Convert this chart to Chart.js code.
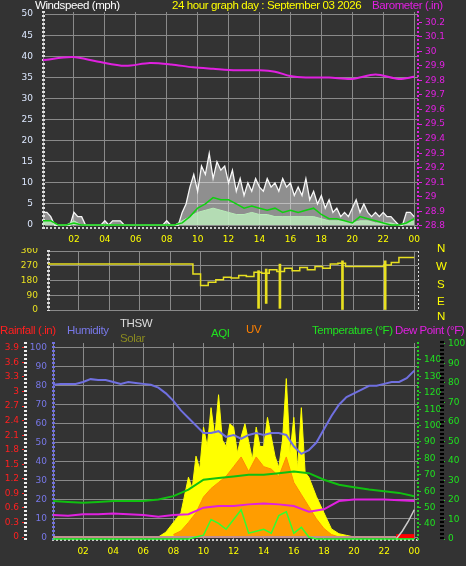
<!DOCTYPE html>
<html>
<head>
<meta charset="utf-8">
<script src="https://cdn.jsdelivr.net/npm/chart.js@4.4.1/dist/chart.umd.min.js"></script>
<style>
  body { margin: 0; background: #333; width: 466px; height: 566px; overflow: hidden; position: relative; font-family: 'Liberation Sans', 'DejaVu Sans', sans-serif; }
  .box { position: absolute; left: 0; width: 466px; }
  .lbl { position: absolute; font-size: 11.5px; letter-spacing: -0.4px; white-space: nowrap; line-height: 13px; }
</style>
</head>
<body>
<div class="box" style="top:0;height:248px"><canvas id="windChart"></canvas></div>
<div class="box" style="top:248px;height:64px"><canvas id="dirChart"></canvas></div>
<div class="box" style="top:318px;height:248px"><canvas id="weatherChart"></canvas></div>

<div class="lbl" style="left:35px;top:-1px;color:#fff">Windspeed (mph)</div>
<div class="lbl" style="left:172px;top:-1px;color:#ff0">24 hour graph day : September 03 2026</div>
<div class="lbl" style="left:372px;top:-1px;color:#e020e0">Barometer (.in)</div>

<div class="lbl" style="left:437px;top:242px;color:#ff0">N</div>
<div class="lbl" style="left:436px;top:260px;color:#ff0">W</div>
<div class="lbl" style="left:437px;top:278px;color:#ff0">S</div>
<div class="lbl" style="left:437px;top:295px;color:#ff0">E</div>
<div class="lbl" style="left:437px;top:310px;color:#ff0">N</div>

<div class="lbl" style="left:0;top:324px;color:#ff2020">Rainfall (.in)</div>
<div class="lbl" style="left:67px;top:324px;color:#7878e8">Humidity</div>
<div class="lbl" style="left:120px;top:317px;color:#ddd">THSW</div>
<div class="lbl" style="left:120px;top:332px;color:#8a8a20">Solar</div>
<div class="lbl" style="left:211px;top:327px;color:#20e020">AQI</div>
<div class="lbl" style="left:246px;top:323px;color:#ff8000">UV</div>
<div class="lbl" style="left:312px;top:324px;color:#20e020">Temperature (°F)</div>
<div class="lbl" style="left:395px;top:324px;color:#e020e0">Dew Point (°F)</div>

<script>
// ---- data ----
const halfHours = [];
for (let i = 0; i <= 48; i++) halfHours.push(i / 2);
const quarterHours = [];
for (let i = 0; i <= 96; i++) quarterHours.push(i / 4);
const hours = [];
for (let i = 0; i <= 24; i++) hours.push(i);

const baroHours = [0, 1.9, 3.5, 5.3, 6.9, 8.3, 9.7, 11, 12.5, 14, 15, 16, 17, 18.5, 20, 21.5, 23, 24];
const barometer = [29.94, 29.96, 29.93, 29.90, 29.92, 29.91, 29.89, 29.88, 29.87, 29.87, 29.86, 29.83, 29.82, 29.82, 29.81, 29.84, 29.81, 29.825];

const windGust = [3, 3, 2, 0, 0, 0, 0, 0, 3, 2, 2, 0, 0, 0, 0, 0, 1, 0, 1, 1, 1, 0, 0, 0,
  0, 0, 0, 0, 0, 0, 0, 0, 1, 0, 0, 0, 3, 5, 9, 12, 8, 14, 12, 17, 11, 15, 13, 14,
  10, 13, 8, 11, 7, 10, 8, 11, 9, 8, 11, 9, 10, 8, 11, 9, 10, 7, 9, 7, 11, 6, 8, 5,
  7, 4, 6, 3, 4, 2, 3, 2, 4, 6, 3, 5, 3, 2, 3, 2, 3, 2, 2, 1, 0, 0, 3, 3, 2];
const windAvg = [1, 1, 0, 0, 0.5, 0, 0, 0, 0, 0, 0, 0, 0, 0, 0, 0, 0, 0,
  0.5, 2, 4, 5, 6.5, 6, 6, 5, 4, 4.5, 4, 3.5, 4, 3, 3.5, 3, 3.5, 4, 2.5, 1.5, 1.5, 1, 0.5, 2, 1.5, 1, 0.5, 0, 0, 0.5, 1.5];
const windSpeed = [1, 1, 0, 0, 1, 0, 0, 0, 0, 0, 0, 0, 0, 0, 0, 0, 0, 0,
  1, 2, 3, 3.5, 4, 3.5, 3, 2.5, 2.5, 3, 2.5, 2.5, 2, 2, 2, 2, 2, 2, 1.5, 1, 1, 1, 0.5, 1, 1, 0.5, 0.5, 0.5, 0, 0.5, 1];

const windDir = [280, 280, 280, 280, 280, 280, 280, 280, 280, 280, 280, 280, 280, 280, 280, 280, 280, 280, 280,
  220, 150, 170, 185, 200, 195, 210, 205, 230, 225, 245, 235, 255, 240, 260, 245, 265, 255, 280, 285,
  265, 265, 265, 265, 265, 275, 290, 320, 320, 320, 360];
const dirSpikeHours = [13.8, 14.3, 15.2, 19.3, 22.1];
const dirSpikeLow = [10, 40, 10, 0, 0];
const dirSpikeHigh = [240, 250, 280, 300, 300];

const humidity = [80.5, 81, 81, 81, 82, 83.5, 83, 83, 82, 81, 82, 81.5, 81, 80.5, 79, 76, 72, 67, 63, 59, 55, 55, 56, 53, 54,
  52, 54, 55, 54, 55, 55, 54, 48, 44, 46, 50, 57, 64, 70, 74, 76, 78, 80, 80, 81, 82, 82, 84, 88];
const temperature = [54, 53.5, 53, 53.5, 54, 54, 54, 55, 57, 61, 67, 68, 69, 70, 70, 71, 72, 71, 67, 64, 62.5, 61, 60, 59, 57];
const dewPoint = [45.5, 45, 46, 46, 46.5, 46, 45.5, 44.5, 45.5, 46, 50, 51, 51, 52, 52.5, 52, 51, 47.5, 49, 54, 55, 55, 55, 54.5, 54];

const solarHours = [7, 7.5, 8, 8.5, 9, 9.25, 9.5, 9.75, 10, 10.25, 10.5, 10.75, 11, 11.25, 11.5, 11.75, 12, 12.25, 12.5, 12.75,
  13, 13.25, 13.5, 13.75, 14, 14.25, 14.5, 14.75, 15, 15.25, 15.5, 15.75, 16, 16.25, 16.5, 16.75, 17, 17.5, 18, 18.5, 19, 19.5, 20];
const solar = [0, 30, 90, 150, 370, 300, 500, 420, 680, 560, 800, 620, 880, 600, 560, 700, 680, 520, 620, 700,
  590, 480, 680, 560, 560, 740, 620, 500, 430, 600, 980, 520, 740, 420, 800, 400, 370, 250, 150, 50, 20, 10, 0];
const uvHours = [8, 8.5, 9, 9.5, 10, 10.5, 11, 11.5, 12, 12.5, 13, 13.5, 14, 14.5, 15, 15.5, 16, 16.5, 17, 17.5, 18, 18.5, 19];
const uv = [0.2, 0.5, 1.2, 2, 3.3, 4, 4.5, 5, 5.8, 6.6, 5.4, 6.6, 5.8, 5.6, 5, 6.6, 4.5, 3.5, 2.5, 1.5, 0.7, 0.2, 0];
const aqiHours = [0, 9, 9.5, 10, 10.5, 11, 11.5, 12, 12.5, 13, 13.5, 14, 14.5, 15, 15.5, 16, 16.5, 17, 17.5, 18, 24];
const aqi = [0, 0, 1, 2, 10, 8, 5, 10, 15, 3, 4, 5, 3, 12, 14, 3, 6, 1, 0, 0, 0];
const thswHours = [22.8, 23.2, 23.6, 24];
const thsw = [0, 4, 9, 15];
const rainHours = [22.8, 24];
const rainfall = [0.02, 0.02];
const rainTicks = [0, 0.3, 0.6, 0.9, 1.2, 1.5, 1.8, 2.1, 2.4, 2.7, 3.0001, 3.3, 3.6, 3.9];

const pts = (xs, ys) => xs.map((x, i) => ({ x, y: ys[i] }));
const fixedTicks = (vals) => (s) => { s.ticks = vals.map((v) => ({ value: v })); };
const range = (a, b, step) => { const r = []; for (let i = 0; a + i * step <= b + 1e-9; i++) r.push(+(a + i * step).toFixed(2)); return r; };
const fmt = (v) => String(Number(v.toFixed(1)));
const dash = { color: '#8a8a8a', lineWidth: 1 };
const font = { family: 'DejaVu Sans', size: 9 };
const fitWidth = (w) => (s) => { s.width = w; s.paddingTop = 0; s.paddingBottom = 0; };

function hourAxis(showLabels, height) {
  return {
    type: 'linear', min: 0, max: 24.25, offset: false,
    afterBuildTicks: fixedTicks(range(0, 24, 2)),
    afterFit: (s) => { s.height = height; s.paddingLeft = 0; s.paddingRight = 0; },
    border: { color: '#ccc', width: 2 },
    grid: { ...dash, drawTicks: false, offset: false },
    ticks: {
      display: showLabels, color: '#ff0', font, padding: 6, autoSkip: false, maxRotation: 0,
      callback: (v) => (v === 0 ? '' : String(v % 24).padStart(2, '0'))
    }
  };
}

Chart.defaults.animation = false;
Chart.defaults.plugins.legend.display = false;
Chart.defaults.plugins.tooltip.enabled = false;
Chart.defaults.elements.point.radius = 0;

// dashed grid lines everywhere
const dashGrid = {
  id: 'dashGrid',
  beforeDraw(chart) { chart.ctx.setLineDash([2, 2]); },
  afterDraw(chart) { chart.ctx.setLineDash([]); }
};

new Chart(document.getElementById('windChart'), {
  type: 'line',
  plugins: [dashGrid],
  data: {
    datasets: [
      { data: pts(baroHours, barometer), yAxisID: 'baro', borderColor: '#e020e0', borderWidth: 2, tension: 0.3 },
      { data: pts(halfHours, windAvg), yAxisID: 'wind', borderColor: '#10d010', borderWidth: 1.5 },
      { data: pts(halfHours, windSpeed), yAxisID: 'wind', borderColor: '#b8ecb8', backgroundColor: 'rgba(190,240,190,0.8)', fill: 'origin', borderWidth: 1 },
      { data: pts(quarterHours, windGust), yAxisID: 'wind', borderColor: '#f8f8f8', backgroundColor: 'rgba(235,235,235,0.5)', fill: 'origin', borderWidth: 1.3 }
    ]
  },
  options: {
    responsive: true, maintainAspectRatio: false,
    layout: { padding: { top: 12 } },
    scales: {
      x: hourAxis(true, 20),
      wind: {
        position: 'left', min: -0.7, max: 50.5,
        afterBuildTicks: fixedTicks(range(0, 50, 5)),
        afterFit: fitWidth(43),
        border: { color: '#ddd', width: 3 },
        grid: { ...dash, drawTicks: false },
        ticks: { color: '#dde8ff', font, padding: 10, autoSkip: false }
      },
      baro: {
        position: 'right', min: 28.786, max: 30.27,
        afterBuildTicks: fixedTicks(range(28.8, 30.2, 0.1)),
        afterFit: fitWidth(48),
        border: { color: '#e020e0', width: 2 },
        grid: { drawOnChartArea: false, color: '#e020e0', tickLength: 4 },
        ticks: { color: '#e020e0', font, callback: fmt, autoSkip: false }
      }
    }
  }
});

new Chart(document.getElementById('dirChart'), {
  type: 'line',
  plugins: [dashGrid],
  data: {
    datasets: [
      { data: pts(halfHours, windDir), borderColor: '#e8e020', borderWidth: 1.5, stepped: true },
      { type: 'bar', data: dirSpikeHours.map((x, i) => ({ x, y: [dirSpikeLow[i], dirSpikeHigh[i]] })), backgroundColor: '#e8e020', barThickness: 2 }
    ]
  },
  options: {
    responsive: true, maintainAspectRatio: false,
    layout: { padding: { top: 3, bottom: 2 } },
    scales: {
      x: { ...hourAxis(false, 0), border: { display: false } },
      y: {
        position: 'left', min: 0, max: 360,
        afterBuildTicks: fixedTicks([0, 90, 180, 270, 360]),
        afterFit: fitWidth(48),
        border: { color: '#ddd', width: 3 },
        grid: { ...dash, drawTicks: false },
        ticks: { color: '#e8e020', font, padding: 10, autoSkip: false }
      },
      r: { position: 'right', display: true, afterFit: fitWidth(48), ticks: { display: false }, grid: { display: false }, border: { color: '#ddd' } }
    }
  }
});

new Chart(document.getElementById('weatherChart'), {
  type: 'line',
  plugins: [dashGrid],
  data: {
    datasets: [
      { data: pts(halfHours, humidity), yAxisID: 'hum', borderColor: '#7070e0', borderWidth: 2 },
      { data: pts(hours, temperature), yAxisID: 'temp', borderColor: '#10c010', borderWidth: 2 },
      { data: pts(hours, dewPoint), yAxisID: 'temp', borderColor: '#e020e0', borderWidth: 2 },
      { data: pts(aqiHours, aqi), yAxisID: 'aqi', borderColor: '#30ff30', borderWidth: 1.5 },
      { data: pts(thswHours, thsw), yAxisID: 'aqi', borderColor: '#cccccc', borderWidth: 1.5 },
      { data: pts(rainHours, rainfall), yAxisID: 'rain', borderColor: '#ff0000', borderWidth: 4 },
      { data: pts([0, 24], [0, 0]), yAxisID: 'rain', borderColor: '#c09090', borderWidth: 2 },
      { data: pts(uvHours, uv), yAxisID: 'uv', borderColor: '#ff8c00', backgroundColor: 'rgba(255,140,0,0.85)', fill: 'origin', borderWidth: 1 },
      { data: pts(solarHours, solar), yAxisID: 'solar', borderColor: '#ffff00', backgroundColor: '#ffff00', fill: 'origin', borderWidth: 1 }
    ]
  },
  options: {
    responsive: true, maintainAspectRatio: false,
    layout: { padding: { top: 25 } },
    scales: {
      x: hourAxis(true, 26),
      hum: {
        position: 'left', min: -1.5, max: 102.6,
        afterBuildTicks: fixedTicks(range(0, 100, 10)),
        afterFit: fitWidth(28),
        border: { color: '#7070e0', width: 3 },
        grid: { ...dash, drawTicks: false },
        ticks: { color: '#7878e8', font, padding: 6, autoSkip: false }
      },
      rain: {
        position: 'left', min: -0.06, max: 4.0,
        afterBuildTicks: fixedTicks(rainTicks),
        afterFit: fitWidth(25),
        border: { color: '#eee', width: 3 },
        grid: { drawOnChartArea: false, color: '#ff2020', tickLength: 3 },
        ticks: { color: '#ff2020', font, callback: fmt, autoSkip: false }
      },
      temp: {
        position: 'right', min: 30.3, max: 150.3,
        afterBuildTicks: fixedTicks(range(40, 140, 10)),
        afterFit: fitWidth(24),
        border: { color: '#20d020', width: 2 },
        grid: { drawOnChartArea: false, color: '#20d020', tickLength: 3 },
        ticks: { color: '#20e020', font, autoSkip: false }
      },
      aqi: {
        position: 'right', min: -0.5, max: 100.5,
        afterBuildTicks: fixedTicks(range(0, 100, 10)),
        afterFit: fitWidth(24),
        border: { color: '#000', width: 4 },
        grid: { drawOnChartArea: false, color: '#20d020', tickLength: 3 },
        ticks: { color: '#20e020', font, autoSkip: false }
      },
      solar: { display: false, min: -18.6, max: 1200 },
      uv: { display: false, min: -0.25, max: 16 }
    }
  }
});
</script>
</body>
</html>
